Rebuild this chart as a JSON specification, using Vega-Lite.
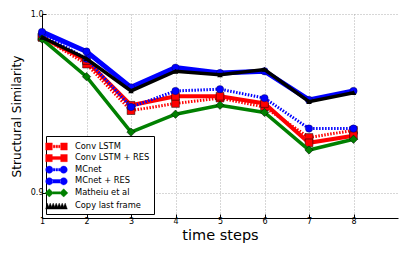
{
  "$schema": "https://vega.github.io/schema/vega-lite/v6.json",
  "width": 356,
  "height": 204,
  "autosize": "none",
  "padding": {"left": 42, "top": 14, "right": 9, "bottom": 37},
  "config": {
    "font": "DejaVu Sans",
    "view": {"stroke": null},
    "axis": {"labelFont": "DejaVu Sans", "titleFont": "DejaVu Sans", "labelColor": "black", "titleColor": "black", "titleFontWeight": "normal", "domainColor": "black", "tickColor": "black", "gridColor": "#9a9a9a", "gridDash": [1, 2], "gridWidth": 0.8}
  },
  "data": {"values": [
    {"series": "Conv LSTM", "t": 1, "ssim": 0.987}, {"series": "Conv LSTM", "t": 2, "ssim": 0.972}, {"series": "Conv LSTM", "t": 3, "ssim": 0.946}, {"series": "Conv LSTM", "t": 4, "ssim": 0.950}, {"series": "Conv LSTM", "t": 5, "ssim": 0.953}, {"series": "Conv LSTM", "t": 6, "ssim": 0.948}, {"series": "Conv LSTM", "t": 7, "ssim": 0.931}, {"series": "Conv LSTM", "t": 8, "ssim": 0.935},
    {"series": "Conv LSTM + RES", "t": 1, "ssim": 0.987}, {"series": "Conv LSTM + RES", "t": 2, "ssim": 0.974}, {"series": "Conv LSTM + RES", "t": 3, "ssim": 0.949}, {"series": "Conv LSTM + RES", "t": 4, "ssim": 0.954}, {"series": "Conv LSTM + RES", "t": 5, "ssim": 0.954}, {"series": "Conv LSTM + RES", "t": 6, "ssim": 0.950}, {"series": "Conv LSTM + RES", "t": 7, "ssim": 0.928}, {"series": "Conv LSTM + RES", "t": 8, "ssim": 0.932},
    {"series": "MCnet", "t": 1, "ssim": 0.989}, {"series": "MCnet", "t": 2, "ssim": 0.975}, {"series": "MCnet", "t": 3, "ssim": 0.948}, {"series": "MCnet", "t": 4, "ssim": 0.957}, {"series": "MCnet", "t": 5, "ssim": 0.958}, {"series": "MCnet", "t": 6, "ssim": 0.953}, {"series": "MCnet", "t": 7, "ssim": 0.936}, {"series": "MCnet", "t": 8, "ssim": 0.936},
    {"series": "MCnet + RES", "t": 1, "ssim": 0.990}, {"series": "MCnet + RES", "t": 2, "ssim": 0.979}, {"series": "MCnet + RES", "t": 3, "ssim": 0.959}, {"series": "MCnet + RES", "t": 4, "ssim": 0.970}, {"series": "MCnet + RES", "t": 5, "ssim": 0.967}, {"series": "MCnet + RES", "t": 6, "ssim": 0.968}, {"series": "MCnet + RES", "t": 7, "ssim": 0.952}, {"series": "MCnet + RES", "t": 8, "ssim": 0.957},
    {"series": "Matheiu et al", "t": 1, "ssim": 0.986}, {"series": "Matheiu et al", "t": 2, "ssim": 0.965}, {"series": "Matheiu et al", "t": 3, "ssim": 0.934}, {"series": "Matheiu et al", "t": 4, "ssim": 0.944}, {"series": "Matheiu et al", "t": 5, "ssim": 0.949}, {"series": "Matheiu et al", "t": 6, "ssim": 0.945}, {"series": "Matheiu et al", "t": 7, "ssim": 0.924}, {"series": "Matheiu et al", "t": 8, "ssim": 0.930},
    {"series": "Copy last frame", "t": 1, "ssim": 0.987}, {"series": "Copy last frame", "t": 2, "ssim": 0.975}, {"series": "Copy last frame", "t": 3, "ssim": 0.957}, {"series": "Copy last frame", "t": 4, "ssim": 0.968}, {"series": "Copy last frame", "t": 5, "ssim": 0.966}, {"series": "Copy last frame", "t": 6, "ssim": 0.969}, {"series": "Copy last frame", "t": 7, "ssim": 0.951}, {"series": "Copy last frame", "t": 8, "ssim": 0.956}
  ]},
  "encoding": {
    "x": {"field": "t", "type": "quantitative", "scale": {"domain": [1, 9], "nice": false, "zero": false},
      "axis": {"values": [1, 2, 3, 4, 5, 6, 7, 8], "title": "time steps", "titleFontSize": 14.5, "labelFontSize": 8, "tickSize": -4, "labelPadding": 3, "titlePadding": 3, "grid": true, "labelFlush": false}},
    "y": {"field": "ssim", "type": "quantitative", "scale": {"domain": [0.886, 1.0], "nice": false, "zero": false},
      "axis": {"values": [0.9, 1.0], "format": ".1f", "title": "Structural Similarity", "titleFontSize": 12.2, "labelFontSize": 8, "tickSize": -4, "labelPadding": 3, "titlePadding": 7, "grid": true}},
    "color": {"field": "series", "type": "nominal", "title": null,
      "scale": {"domain": ["Conv LSTM", "Conv LSTM + RES", "MCnet", "MCnet + RES", "Matheiu et al", "Copy last frame"], "range": ["#ff0000", "#ff0000", "#0000ff", "#0000ff", "#008000", "#000000"]},
      "legend": {"orient": "bottom-left", "offset": 4, "padding": 4, "strokeColor": "black", "fillColor": "white", "labelFontSize": 8.3, "labelFont": "DejaVu Sans", "labelColor": "black", "symbolSize": 144, "symbolOpacity": 1, "symbolStrokeColor": "black", "symbolStrokeWidth": 0.4, "rowPadding": 0.6, "labelOffset": 12, "cornerRadius": 0,
        "encode": {"symbols": {"update": {"fill": {"scale": "color", "field": "value"}, "fillOpacity": {"value": 1}, "opacity": {"value": 1}}}}}}
  },
  "layer": [
    {"mark": {"type": "point", "filled": true, "opacity": 0},
      "encoding": {"shape": {"field": "series", "type": "nominal", "scale": {"domain": ["Conv LSTM", "Conv LSTM + RES", "MCnet", "MCnet + RES", "Matheiu et al", "Copy last frame"],
        "range": [
          "M-1.8,-0.6h1.1v1.2h-1.1z M0.7,-0.6h1.1v1.2h-1.1z M-0.55,-0.22h0.3v0.44h-0.3z M-0.1,-0.22h0.3v0.44h-0.3z M0.35,-0.22h0.25v0.44h-0.25z",
          "M-1.8,-0.6h1.1v1.2h-1.1z M0.7,-0.6h1.1v1.2h-1.1z M-0.7,-0.25h1.4v0.5h-1.4z",
          "M-1.8,0a0.6,0.6 0 1,0 1.2,0a0.6,0.6 0 1,0 -1.2,0z M0.6,0a0.6,0.6 0 1,0 1.2,0a0.6,0.6 0 1,0 -1.2,0z M-0.55,-0.22h0.3v0.44h-0.3z M-0.1,-0.22h0.3v0.44h-0.3z M0.35,-0.22h0.25v0.44h-0.25z",
          "M-1.8,0a0.6,0.6 0 1,0 1.2,0a0.6,0.6 0 1,0 -1.2,0z M0.6,0a0.6,0.6 0 1,0 1.2,0a0.6,0.6 0 1,0 -1.2,0z M-0.7,-0.3h1.4v0.6h-1.4z",
          "M-1.9,0l0.7,-0.7l0.7,0.7l-0.7,0.7z M0.5,0l0.7,-0.7l0.7,0.7l-0.7,0.7z M-0.6,-0.2h1.2v0.4h-1.2z",
          "M-1.8,0.6L-1.55,-0.4L-1.3,0.2L-1.05,-0.4L-0.8,0.2L-0.55,-0.4L-0.3,0.2L-0.05,-0.4L0.2,0.2L0.45,-0.4L0.7,0.2L0.95,-0.4L1.2,0.2L1.45,-0.4L1.8,0.6Z"
        ]}}}},
    {"transform": [{"filter": "datum.series === 'Conv LSTM'"}], "layer": [
      {"mark": {"type": "line", "strokeWidth": 3, "strokeDash": [1.5, 1.5]}},
      {"mark": {"type": "point", "shape": "square", "filled": true, "size": 60, "opacity": 1, "stroke": "black", "strokeWidth": 0.5}}
    ]},
    {"transform": [{"filter": "datum.series === 'Conv LSTM + RES'"}], "layer": [
      {"mark": {"type": "line", "strokeWidth": 4}},
      {"mark": {"type": "point", "shape": "square", "filled": true, "size": 60, "opacity": 1, "stroke": "black", "strokeWidth": 0.5}}
    ]},
    {"transform": [{"filter": "datum.series === 'MCnet'"}], "layer": [
      {"mark": {"type": "line", "strokeWidth": 3, "strokeDash": [1.5, 1.5]}},
      {"mark": {"type": "point", "shape": "circle", "filled": true, "size": 55, "opacity": 1, "stroke": "black", "strokeWidth": 0.3}}
    ]},
    {"transform": [{"filter": "datum.series === 'MCnet + RES'"}], "layer": [
      {"mark": {"type": "line", "strokeWidth": 5}},
      {"mark": {"type": "point", "shape": "circle", "filled": true, "size": 55, "opacity": 1, "stroke": "black", "strokeWidth": 0.3}}
    ]},
    {"transform": [{"filter": "datum.series === 'Matheiu et al'"}], "layer": [
      {"mark": {"type": "line", "strokeWidth": 3.5}},
      {"mark": {"type": "point", "shape": "diamond", "filled": true, "size": 70, "opacity": 1, "stroke": "black", "strokeWidth": 0.5}}
    ]},
    {"transform": [{"filter": "datum.series === 'Copy last frame'"}], "layer": [
      {"mark": {"type": "line", "strokeWidth": 3.5}},
      {"mark": {"type": "point", "shape": "triangle-up", "filled": true, "size": 30, "opacity": 1}}
    ]}
  ]
}
